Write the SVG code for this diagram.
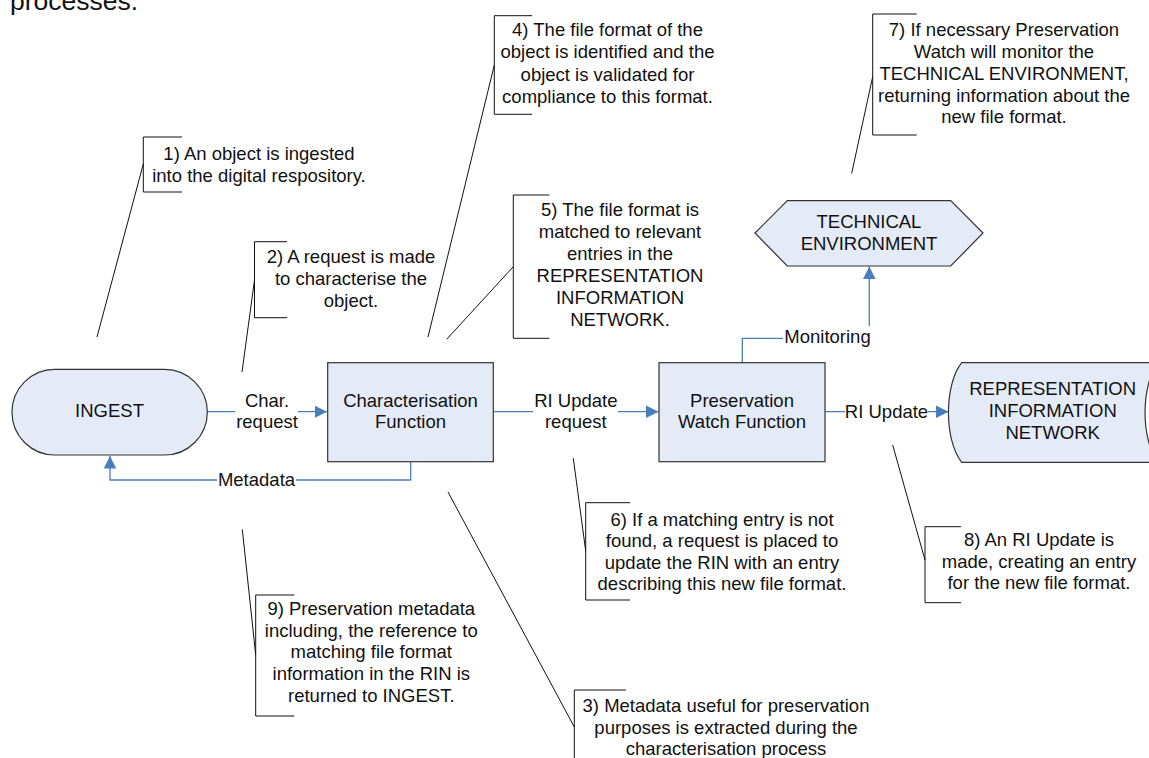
<svg xmlns="http://www.w3.org/2000/svg" width="1149" height="758" viewBox="0 0 1149 758">
<defs>
<style>
text{font-family:"Liberation Sans",Arial,sans-serif;font-size:18.5px;fill:#111;}
.c{text-anchor:middle;}
.node{fill:#e4ebf6;stroke:#333;stroke-width:1.2;}
.conn{fill:none;stroke:#4a7ebb;stroke-width:1.3;}
.ann{fill:none;stroke:#111;stroke-width:1;}
.bg{fill:#fff;stroke:none;}
</style>
<marker id="ah" markerUnits="userSpaceOnUse" markerWidth="13" markerHeight="13" refX="12.5" refY="6.25" orient="auto">
<path d="M0,0 L12.5,6.25 L0,12.5 Z" fill="#4a7ebb"/>
</marker>
</defs>
<rect width="1149" height="758" fill="#fff"/>
<text x="10" y="10" style="font-size:26.5px">processes.</text>

<g id="connectors">
<path class="conn" d="M207,411.7 H327" marker-end="url(#ah)"/>
<rect class="bg" x="235" y="389" width="63" height="46"/>
<text class="c" x="267" y="406.7">Char.</text>
<text class="c" x="267" y="428.3">request</text>

<path class="conn" d="M410.7,462 V480 H110 V456" marker-end="url(#ah)"/>
<rect class="bg" x="217" y="471" width="79" height="19"/>
<text class="c" x="256.5" y="486">Metadata</text>

<path class="conn" d="M493,411.7 H658.5" marker-end="url(#ah)"/>
<rect class="bg" x="533" y="389" width="85" height="46"/>
<text class="c" x="575.8" y="406.7">RI Update</text>
<text class="c" x="575.8" y="428.3">request</text>

<path class="conn" d="M825,411.7 H948.5" marker-end="url(#ah)"/>
<rect class="bg" x="845" y="402" width="83" height="20"/>
<text class="c" x="886.5" y="418">RI Update</text>

<path class="conn" d="M742.3,362.7 V338.3 H869.3 V266.5" marker-end="url(#ah)"/>
<rect class="bg" x="783" y="326" width="89" height="21"/>
<text class="c" x="827.5" y="343.3">Monitoring</text>
</g>

<g id="ingest">
<rect class="node" x="12" y="369.3" width="195.3" height="85.7" rx="42.8"/>
<text class="c" x="109.5" y="417.3">INGEST</text>
</g>

<g id="characterisation">
<rect class="node" x="327.7" y="362.7" width="165.6" height="99"/>
<text class="c" x="410.5" y="406.7">Characterisation</text>
<text class="c" x="410.5" y="428.3">Function</text>
</g>

<g id="preservation-watch">
<rect class="node" x="659" y="362.7" width="166" height="99"/>
<text class="c" x="742" y="406.7">Preservation</text>
<text class="c" x="742" y="428.3">Watch Function</text>
</g>

<g id="rin">
<path class="node" d="M961.7,362.7 H1158.3 C1140.6,385 1140.6,440 1158.3,462.3 H961.7 C944,440 944,385 961.7,362.7 Z"/>
<text class="c" x="1052.7" y="395">REPRESENTATION</text>
<text class="c" x="1052.7" y="417.3">INFORMATION</text>
<text class="c" x="1052.7" y="439.3">NETWORK</text>
</g>

<g id="technical-environment">
<polygon class="node" points="755,233 787.3,200.7 950.7,200.7 983,233 950.7,266 787.3,266"/>
<text class="c" x="869" y="228.3">TECHNICAL</text>
<text class="c" x="869" y="250">ENVIRONMENT</text>
</g>

<g id="note1">
<path class="ann" d="M182,137 H143.3 V192 H182 M143.3,164 L97,337"/>
<text class="c" x="259" y="159.5">1) An object is ingested</text>
<text class="c" x="259" y="181.5">into the digital respository.</text>
</g>

<g id="note2">
<path class="ann" d="M287,241.7 H254.5 V317.7 H287 M254.5,280 L242,372"/>
<text class="c" x="351" y="263">2) A request is made</text>
<text class="c" x="351" y="285">to characterise the</text>
<text class="c" x="351" y="307">object.</text>
</g>

<g id="note3">
<path class="ann" d="M626,690 H574.3 V770 M574.3,727 L448,492"/>
<text class="c" x="726" y="712">3) Metadata useful for preservation</text>
<text class="c" x="726" y="733.5">purposes is extracted during the</text>
<text class="c" x="726" y="755">characterisation process</text>
</g>

<g id="note4">
<path class="ann" d="M532,15.7 H494.3 V114.3 H532 M494.3,65 L428,337"/>
<text class="c" x="607.5" y="36">4) The file format of the</text>
<text class="c" x="607.5" y="58.3">object is identified and the</text>
<text class="c" x="607.5" y="80.7">object is validated for</text>
<text class="c" x="607.5" y="103">compliance to this format.</text>
</g>

<g id="note5">
<path class="ann" d="M549.3,195 H513.3 V338.3 H549.3 M513.3,266.7 L446.7,339.3"/>
<text class="c" x="620" y="216">5) The file format is</text>
<text class="c" x="620" y="238">matched to relevant</text>
<text class="c" x="620" y="260">entries in the</text>
<text class="c" x="620" y="282">REPRESENTATION</text>
<text class="c" x="620" y="304">INFORMATION</text>
<text class="c" x="620" y="326">NETWORK.</text>
</g>

<g id="note6">
<path class="ann" d="M630,502.7 H585.7 V600 H630 M585.7,551 L573.3,458.3"/>
<text class="c" x="722" y="525.5">6) If a matching entry is not</text>
<text class="c" x="722" y="547">found, a request is placed to</text>
<text class="c" x="722" y="568.5">update the RIN with an entry</text>
<text class="c" x="722" y="590">describing this new file format.</text>
</g>

<g id="note7">
<path class="ann" d="M916.7,14 H872.7 V135 H916.7 M872.7,76.7 L851.7,173.3"/>
<text class="c" x="1004" y="36">7) If necessary Preservation</text>
<text class="c" x="1004" y="57.7">Watch will monitor the</text>
<text class="c" x="1004" y="80">TECHNICAL ENVIRONMENT,</text>
<text class="c" x="1004" y="101.7">returning information about the</text>
<text class="c" x="1004" y="123.3">new file format.</text>
</g>

<g id="note8">
<path class="ann" d="M961,526.7 H925 V602.7 H961 M925,560 L892.7,445"/>
<text class="c" x="1039" y="546">8) An RI Update is</text>
<text class="c" x="1039" y="567.7">made, creating an entry</text>
<text class="c" x="1039" y="589.3">for the new file format.</text>
</g>

<g id="note9">
<path class="ann" d="M294.3,595 H255.7 V716 H294.3 M255.7,655 L242.3,529.3"/>
<text class="c" x="371.3" y="615">9) Preservation metadata</text>
<text class="c" x="371.3" y="636.7">including, the reference to</text>
<text class="c" x="371.3" y="658.3">matching file format</text>
<text class="c" x="371.3" y="680">information in the RIN is</text>
<text class="c" x="371.3" y="701.7">returned to INGEST.</text>
</g>
</svg>
